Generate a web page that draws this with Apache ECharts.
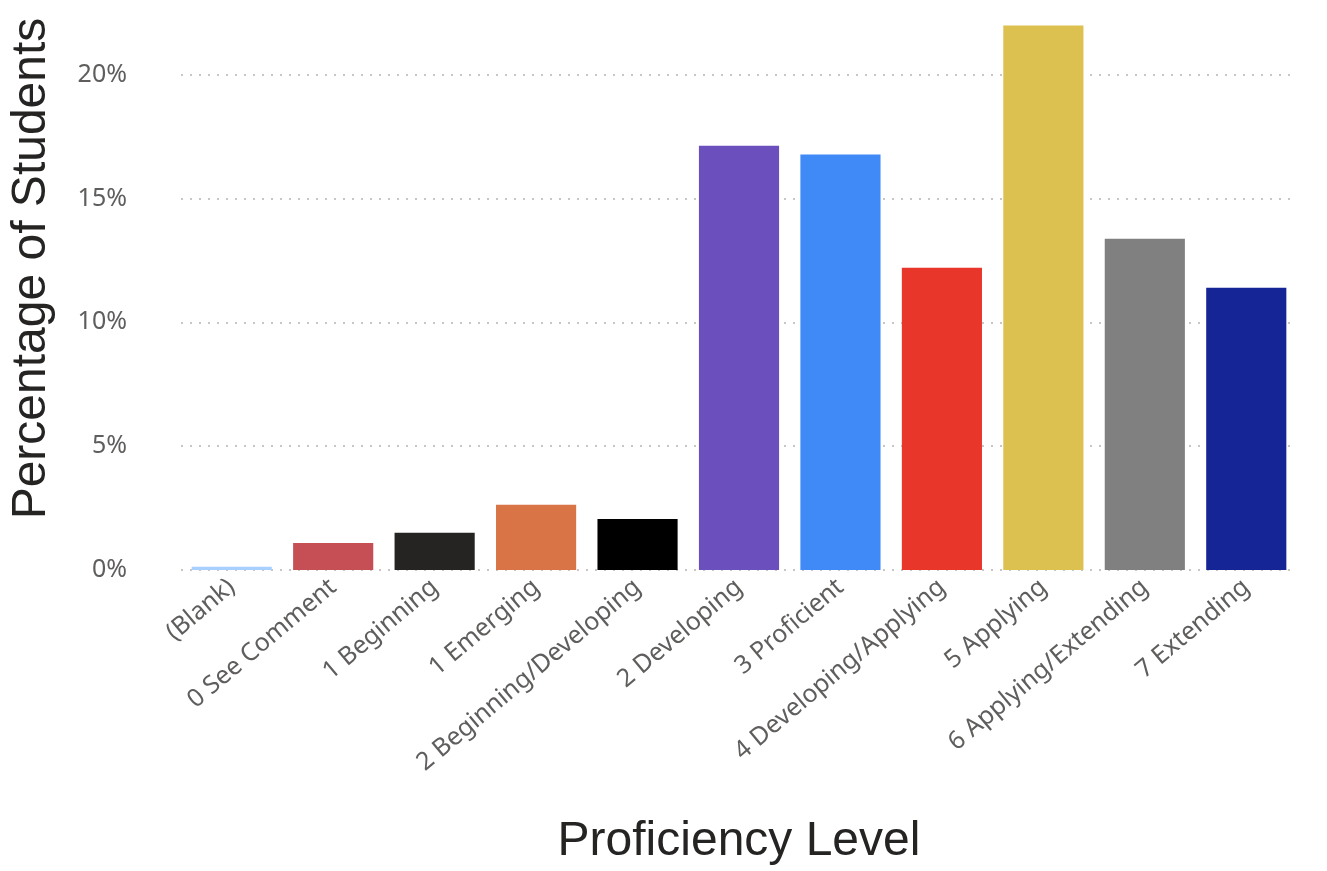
<!DOCTYPE html>
<html>
<head>
<meta charset="utf-8">
<script src="https://cdn.jsdelivr.net/npm/echarts@6/dist/echarts.min.js"></script>
<style>
  html, body { margin: 0; padding: 0; background: #fff; }
  #main { width: 1327px; height: 871px; }
</style>
</head>
<body>
<div id="main"></div>
<script>
// proficiency levels along the x axis
var categories = [
  '(Blank)', '0 See Comment', '1 Beginning', '1 Emerging', '2 Beginning/Developing',
  '2 Developing', '3 Proficient', '4 Developing/Applying', '5 Applying',
  '6 Applying/Extending', '7 Extending'
];
// percentage of students per level
var percents = [0.13, 1.09, 1.5, 2.63, 2.06, 17.13, 16.77, 12.2, 21.98, 13.37, 11.39];
var barColors = [
  '#a8d0ff', '#c64f55', '#252423', '#d97446', '#000000',
  '#6b50bd', '#3f8af7', '#e8372a', '#dcc150', '#808080', '#162595'
];
var yTicks = [0, 5, 10, 15, 20];
var yMax = 22;

var chart = echarts.init(document.getElementById('main'));
chart.setOption({
  animation: false,
  grid: { left: 179, right: 30, top: 25, bottom: 296, containLabel: false },
  xAxis: {
    type: 'category',
    data: categories,
    name: 'Proficiency Level',
    nameLocation: 'middle',
    nameGap: 248,
    nameTextStyle: { fontFamily: 'Liberation Sans', fontSize: 48, color: '#252423' },
    axisLine: { show: false },
    axisTick: { show: false },
    axisLabel: {
      rotate: 40,
      margin: 14,
      interval: 0,
      fontFamily: 'Noto Sans',
      fontSize: 25,
      color: '#605e5c'
    }
  },
  yAxis: {
    type: 'value',
    min: 0,
    max: yMax,
    interval: 5,
    name: 'Percentage of Students',
    nameLocation: 'middle',
    nameGap: 125,
    nameTextStyle: { fontFamily: 'Liberation Sans', fontSize: 48, color: '#252423', padding: [0, 0, 0, 58] },
    axisLine: { show: false },
    axisTick: { show: false },
    axisLabel: {
      margin: 54,
      fontFamily: 'Noto Sans',
      fontSize: 25,
      color: '#605e5c',
      formatter: function (v) { return v % 5 === 0 ? v + '%' : ''; }
    },
    splitLine: { show: false }
  },
  series: [
    {
      // helper series carrying the dotted gridlines behind the bars
      type: 'line',
      data: [],
      z: 1,
      silent: true,
      markLine: {
        z: 1,
        silent: true,
        symbol: 'none',
        label: { show: false },
        lineStyle: { type: [2, 7], color: '#c8c6c4', width: 2 },
        data: yTicks.map(function (t) { return { yAxis: t }; })
      }
    },
    {
      type: 'bar',
      z: 3,
      data: percents.map(function (v, i) {
        return { value: v, itemStyle: { color: barColors[i] } };
      }),
      barCategoryGap: '21%'
    }
  ]
});
</script>
</body>
</html>
